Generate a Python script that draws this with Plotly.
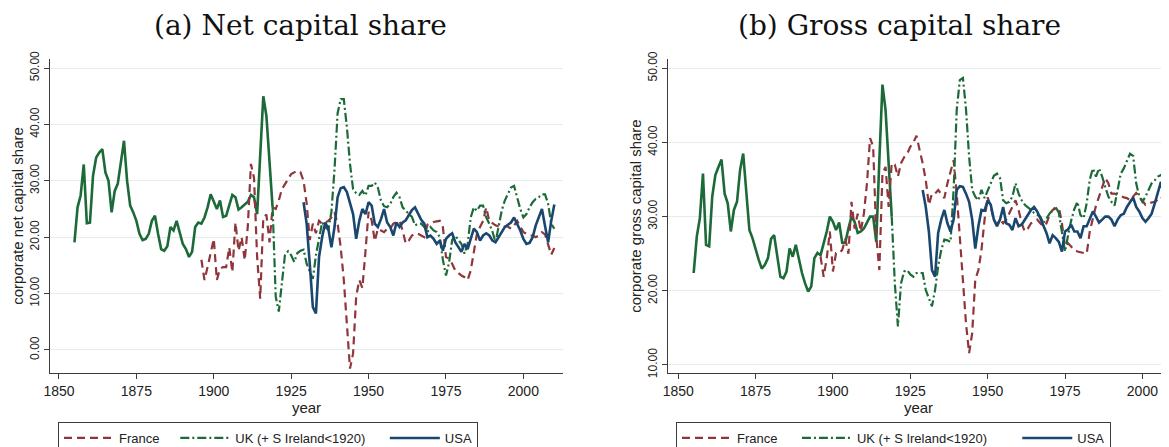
import plotly.graph_objects as go

# the page body keeps its default 8px margin, so the figure is laid out 8px in
OFF = 8
W, H = 1169 - OFF, 447 - OFF

# ---- data ----
uk_early_years = list(range(1855, 1920))
uk_late_years = list(range(1919, 2011))
france_years = list(range(1896, 2011))
usa_years = list(range(1929, 2011))

# net capital share
uk_net_early = [
    19.1, 25.3, 27.4, 32.9, 22.5, 22.6, 30.9, 34.1, 35.0, 35.6,
    31.5, 30.0, 24.4, 28.2, 29.5, 33.5, 37.1, 30.0, 25.6, 24.4,
    22.9, 20.6, 19.5, 19.7, 20.6, 22.9, 23.8, 20.6, 17.9, 17.6,
    18.4, 21.8, 21.2, 22.9, 20.9, 18.8, 17.9, 16.5, 17.4, 21.8,
    22.6, 22.4, 23.5, 25.3, 27.6, 26.2, 25.0, 26.5, 23.6, 23.8,
    25.5, 27.5, 27.1, 24.9, 25.3, 25.8, 26.3, 27.5, 27.1, 24.1,
    35.3, 45.0, 41.5, 32.9, 25.3,
]
uk_net_late = [
    25.3, 9.5, 6.8, 12.4, 16.9, 17.5, 16.8, 15.6, 17.2, 17.6,
    17.8, 15.3, 14.0, 12.6, 16.8, 19.7, 22.6, 21.8, 21.3, 24.5,
    32.0, 42.0, 44.5, 44.5, 39.5, 33.0, 28.5, 27.8, 27.5, 28.2,
    27.4, 29.1, 29.1, 29.7, 28.8, 26.5, 25.5, 25.3, 25.9, 27.1,
    27.9, 27.1, 25.3, 24.7, 24.1, 23.6, 22.1, 22.4, 22.4, 21.8,
    20.9, 21.8, 21.2, 20.9, 20.0, 16.0, 13.2, 15.5, 19.5, 20.3,
    19.5, 18.8, 17.1, 18.8, 23.5, 25.3, 24.7, 25.6, 25.6, 23.5,
    22.4, 21.0, 19.1, 22.1, 24.7, 26.5, 27.6, 28.8, 29.1, 26.8,
    25.0, 23.5, 24.1, 25.3, 26.2, 26.8, 27.1, 27.6, 27.6, 25.9,
    22.4, 21.5,
]
france_net = [
    16.0, 12.4, 14.7, 17.5, 19.7, 12.4, 14.4, 14.7, 14.7, 18.2,
    13.8, 22.6, 17.6, 20.0, 15.9, 22.0, 33.0, 30.5, 16.5, 9.1,
    23.5, 24.0, 19.1, 25.3, 25.0, 26.5, 28.5, 29.4, 30.3, 31.2,
    31.5, 31.8, 31.5, 30.0, 26.0, 19.5, 22.4, 20.7, 22.9, 22.4,
    22.6, 22.9, 23.5, 24.4, 22.4, 18.2, 12.4, 4.1, -3.3, -0.6,
    9.5, 12.4, 11.0, 17.5, 24.5, 23.0, 19.3, 21.5, 21.2, 20.9,
    21.5, 21.5, 22.4, 22.6, 22.9, 21.2, 18.9, 19.4, 20.3, 20.6,
    20.6, 20.3, 20.0, 22.2, 22.5, 22.7, 22.8, 22.9, 21.8, 16.5,
    16.2, 15.3, 14.1, 13.6, 13.2, 12.9, 12.4, 14.1, 17.6, 20.6,
    21.8, 22.9, 25.3, 22.9, 22.5, 22.1, 21.9, 21.9, 21.9, 21.9,
    21.5, 22.1, 22.9, 21.8, 20.9, 20.6, 20.3, 20.3, 20.0, 20.3,
    20.9, 20.5, 18.5, 16.9, 18.1,
]
usa_net = [
    26.2, 22.4, 15.3, 7.6, 6.5, 16.5, 20.0, 22.6, 21.5, 18.2,
    21.8, 27.1, 28.7, 28.9, 28.0, 26.0, 24.1, 19.7, 22.9, 25.0,
    24.1, 26.2, 25.6, 22.4, 21.8, 23.2, 25.0, 22.6, 21.8, 20.3,
    22.6, 21.8, 22.6, 23.0, 24.0, 24.8, 25.3, 24.1, 23.1, 22.4,
    20.0, 20.3, 19.7, 18.8, 19.4, 17.6, 19.7, 20.3, 20.7, 19.1,
    18.2, 17.4, 18.8, 17.9, 19.7, 21.5, 20.9, 19.4, 20.3, 20.7,
    20.3, 19.4, 19.1, 20.0, 20.9, 21.8, 22.2, 22.6, 23.5, 22.4,
    21.2, 19.7, 18.8, 19.0, 20.0, 22.1, 23.5, 25.0, 22.0, 19.1,
    22.9, 25.8,
]

# gross capital share
uk_gross_early = [
    22.4, 27.3, 29.8, 35.8, 26.2, 26.0, 32.7, 35.6, 36.7, 37.7,
    33.1, 31.8, 28.0, 30.9, 32.0, 36.3, 38.5, 33.6, 28.2, 27.1,
    25.5, 24.2, 23.0, 23.5, 24.4, 27.0, 27.5, 24.8, 21.9, 21.7,
    22.6, 25.7, 24.6, 26.2, 24.2, 22.4, 21.0, 19.9, 20.6, 24.4,
    25.1, 24.8, 26.4, 28.0, 30.0, 29.3, 28.2, 29.2, 26.5, 26.5,
    28.4, 30.0, 29.3, 27.8, 28.0, 28.4, 29.2, 30.0, 30.0, 26.6,
    37.6, 47.8, 44.4, 37.2, 30.0,
]
uk_gross_late = [
    30.0, 21.0, 15.2, 21.0, 22.6, 22.8, 22.2, 21.9, 22.4, 22.4,
    22.4, 20.1, 19.0, 17.9, 20.1, 23.3, 25.5, 26.9, 26.8, 26.6,
    33.6, 44.4, 48.4, 48.7, 44.5, 38.1, 33.6, 32.7, 32.2, 33.6,
    32.5, 33.6, 34.5, 35.5, 35.8, 35.2, 32.2, 31.8, 32.0, 32.7,
    34.5, 33.1, 32.2, 31.6, 31.3, 30.9, 30.5, 30.2, 30.0, 29.1,
    29.8, 30.4, 30.9, 31.3, 30.5, 28.0, 25.3, 27.5, 29.5, 31.0,
    32.0, 30.2, 29.8, 31.8, 35.0, 36.5, 35.4, 36.5, 35.4, 34.0,
    32.7, 32.0, 31.5, 33.6, 35.8, 36.5, 37.4, 38.5, 38.2, 34.5,
    32.7, 32.0, 32.7, 33.6, 34.5, 34.9, 35.4, 35.6, 35.2, 33.6,
    32.0, 31.0,
]
france_gross = [
    24.6, 21.9, 24.4, 28.0, 22.6, 25.1, 25.1, 25.5, 27.0, 25.0,
    32.0, 28.4, 30.4, 28.0, 30.4, 34.5, 40.6, 39.4, 27.3, 22.8,
    35.8, 36.7, 31.3, 37.2, 37.0, 35.4, 37.2, 38.0, 38.5, 39.4,
    40.0, 40.9, 39.0, 37.2, 34.9, 31.6, 33.1, 33.1, 33.6, 33.0,
    32.5, 34.5, 36.1, 37.6, 33.1, 27.3, 21.0, 15.6, 11.6, 14.3,
    21.5, 22.8, 25.5, 29.6, 32.6, 31.3, 29.6, 28.9, 29.6, 29.1,
    29.6, 30.4, 31.3, 32.2, 30.9, 29.1, 28.0, 28.4, 29.1, 29.4,
    29.6, 29.1, 28.7, 29.1, 30.2, 30.9, 31.1, 31.3, 29.1, 26.0,
    26.4, 26.0, 25.5, 25.3, 25.2, 25.1, 25.0, 28.0, 30.0, 31.5,
    32.7, 34.0, 35.2, 34.5, 33.1, 33.1, 32.9, 32.7, 32.6, 32.5,
    32.2, 32.7, 33.2, 32.7, 32.2, 31.6, 31.8, 31.9, 32.0, 32.3,
    32.7, 32.2, 31.3, 31.0, 31.5,
]
usa_gross = [
    33.6, 31.3, 28.0, 22.8, 21.9, 27.8, 29.6, 30.9, 29.1, 28.0,
    29.6, 33.6, 34.1, 34.0, 33.1, 32.0, 29.6, 25.7, 28.7, 30.9,
    30.8, 32.2, 31.6, 29.6, 28.7, 29.6, 31.3, 29.1, 28.9, 28.2,
    29.8, 28.7, 28.9, 29.6, 30.2, 30.9, 31.3, 30.7, 29.8, 28.7,
    27.8, 26.4, 27.5, 27.1, 26.6, 25.3, 28.0, 28.3, 28.9, 28.0,
    28.0, 27.1, 28.7, 28.7, 29.6, 30.7, 30.0, 29.2, 29.6, 30.0,
    30.0, 29.6, 28.7, 29.6, 30.2, 30.4, 31.3, 32.0, 32.6, 31.3,
    30.7, 29.8, 29.3, 29.8, 30.4, 31.8, 33.4, 34.7, 32.7, 30.4,
    32.7, 34.0,
]

# ---- style ----
FONT = "Liberation Sans, Arial, sans-serif"
RED = "#90353B"
GREEN = "#1B6A38"
BLUE = "#1A476F"
GRID = "#E4ECEE"
AXIS = "#3C3C3C"
NB = "\u00a0"


def px(x):
    # window pixel -> paper fraction
    return (x - OFF) / W


def py(y):
    return 1 - (y - OFF) / H


fig = go.Figure()

# (x axis, y axis, legend, uk pre-1920, uk, france, usa, padding after France / UK names)
panels = [
    ("x", "y", "legend", uk_net_early, uk_net_late, france_net, usa_net, 3, 4),
    ("x2", "y2", "legend2", uk_gross_early, uk_gross_late, france_gross, usa_gross, 4, 7),
]
for xa, ya, leg, uk_e, uk_l, fr, us, pad_fr, pad_uk in panels:
    fig.add_trace(go.Scatter(x=uk_early_years, y=uk_e, mode="lines", xaxis=xa, yaxis=ya,
                             line=dict(color=GREEN, width=2.6), showlegend=False, hoverinfo="skip"))
    fig.add_trace(go.Scatter(x=france_years, y=fr, mode="lines", xaxis=xa, yaxis=ya, legend=leg,
                             name="France" + NB * pad_fr,
                             line=dict(color=RED, width=2.2, dash="8px,5px")))
    fig.add_trace(go.Scatter(x=uk_late_years, y=uk_l, mode="lines", xaxis=xa, yaxis=ya, legend=leg,
                             name="UK (+ S Ireland<1920)" + NB * pad_uk,
                             line=dict(color=GREEN, width=2.2, dash="9px,3px,2px,3px")))
    fig.add_trace(go.Scatter(x=usa_years, y=us, mode="lines", xaxis=xa, yaxis=ya, legend=leg,
                             name="USA",
                             line=dict(color=BLUE, width=2.6)))

tick_font = dict(family=FONT, size=14, color="#222222")
ytick_font = dict(family=FONT, size=12, color="#222222")
title_font = dict(family=FONT, size=15, color="#222222")

xcommon = dict(tickvals=[1850, 1875, 1900, 1925, 1950, 1975, 2000], ticks="outside", ticklen=5,
               tickcolor=AXIS, showline=True, linecolor=AXIS, linewidth=1.3, showgrid=False,
               zeroline=False, tickfont=tick_font, title=dict(text="year", font=title_font, standoff=2))
ycommon = dict(dtick=10, tickformat=".2f", tickangle=-90, ticks="outside", ticklen=5,
               tickcolor=AXIS, showline=True, linecolor=AXIS, linewidth=1.3, showgrid=True,
               gridcolor=GRID, gridwidth=1, zeroline=False, tickfont=ytick_font)
gridx = dict(tick0=1850, dtick=10, showgrid=True, gridcolor=GRID, gridwidth=1,
             showticklabels=False, ticks="", showline=False, zeroline=False)
legend_style = dict(yanchor="top", xanchor="left", orientation="h", itemwidth=50,
                    bordercolor=AXIS, borderwidth=1, bgcolor="white",
                    font=dict(family=FONT, size=13, color="#222222"))

ydom = [py(373), py(59)]
fig.update_layout(
    width=W, height=H,
    margin=dict(l=0, r=0, t=0, b=0, autoexpand=False),
    paper_bgcolor="white", plot_bgcolor="white",
    xaxis=dict(domain=[px(50), px(563)], range=[1847.1, 2012.8], anchor="y", **xcommon),
    yaxis=dict(domain=ydom, range=[-4.08, 51.6], anchor="x",
               title=dict(text="corporate net capital share", font=title_font, standoff=0), **ycommon),
    xaxis2=dict(domain=[px(668), 1.0], range=[1846.7, 2008.6], anchor="y2", **xcommon),
    yaxis2=dict(domain=ydom, range=[8.92, 51.25], anchor="x2",
                title=dict(text="corporate gross capital share", font=title_font, standoff=0), **ycommon),
    xaxis3=dict(overlaying="x", anchor="y", range=[1847.1, 2012.8], **gridx),
    xaxis4=dict(overlaying="x2", anchor="y2", range=[1846.7, 2008.6], **gridx),
    legend=dict(x=px(58), y=py(422), **legend_style),
    legend2=dict(x=px(676), y=py(422), **legend_style),
    annotations=[
        dict(text="(a) Net capital share", x=px(300), y=py(8), xref="paper", yref="paper",
             showarrow=False, xanchor="center", yanchor="top", borderpad=0,
             font=dict(family="DejaVu Serif, serif", size=28, color="#111111")),
        dict(text="(b) Gross capital share", x=px(899), y=py(8), xref="paper", yref="paper",
             showarrow=False, xanchor="center", yanchor="top", borderpad=0,
             font=dict(family="DejaVu Serif, serif", size=28, color="#111111")),
    ],
)

fig.write_html("out.html")
